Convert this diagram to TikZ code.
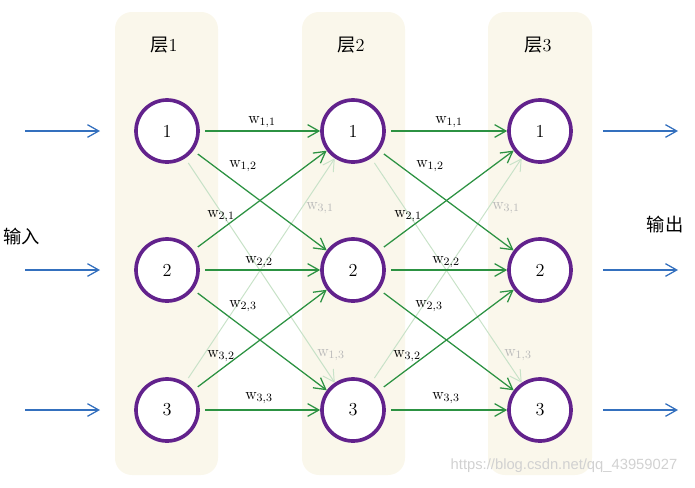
\documentclass[tikz,border=0pt]{standalone}
\usepackage{fontspec}
\usepackage{xcolor}
\usepackage{tikz}
\usetikzlibrary{arrows.meta}
\newfontfamily\cjk{Noto Sans CJK SC}
\newfontfamily\wmfont{Liberation Sans}
\definecolor{panel}{RGB}{250,247,235}
\definecolor{ring}{RGB}{98,34,140}
\definecolor{edge}{RGB}{44,146,66}
\definecolor{faint}{RGB}{200,226,200}
\definecolor{faintlabel}{RGB}{185,185,185}
\definecolor{inblue}{RGB}{52,112,190}

\begin{document}
\begin{tikzpicture}[x=0.025cm, y=-0.025cm,
  neuron/.style={circle, draw=ring, fill=white, line width=2.6pt, minimum size=1.55cm, font=\fontsize{13}{15}\selectfont},
  wire/.style={edge, line width=0.9pt, shorten <=4pt, -{Straight Barb[length=8pt, width=9pt]}},
  faintwire/.style={faint, line width=0.7pt, shorten <=4pt, -{Straight Barb[length=8pt, width=9pt]}},
  weight/.style={font=\fontsize{11.5}{13}\selectfont, inner sep=1pt},
  faintweight/.style={weight, text=faintlabel},
  ioarrow/.style={inblue, line width=0.9pt, -{Straight Barb[length=8pt, width=9pt]}},
  title/.style={font=\fontsize{13}{15}\selectfont}]
\useasboundingbox (0,0) rectangle (695,487);

% Layer panels
\fill[panel, rounded corners=12pt] (115,12) rectangle (218,475);
\fill[panel, rounded corners=12pt] (302,12) rectangle (405,475);
\fill[panel, rounded corners=12pt] (488,12) rectangle (592,475);

% Titles
\node[title] (t1) at (164,45) {{\cjk 层}1};
\node[title] (t2) at (351,45) {{\cjk 层}2};
\node[title] (t3) at (538,45) {{\cjk 层}3};
\node[title] (tin) at (22,237) {\cjk 输入};
\node[title] (tout) at (665,225) {\cjk 输出};

% Neurons
\node[neuron] (a1) at (167,131) {1};
\node[neuron] (a2) at (167,270) {2};
\node[neuron] (a3) at (167,410) {3};
\node[neuron] (b1) at (353,131) {1};
\node[neuron] (b2) at (353,270) {2};
\node[neuron] (b3) at (353,410) {3};
\node[neuron] (c1) at (540,131) {1};
\node[neuron] (c2) at (540,270) {2};
\node[neuron] (c3) at (540,410) {3};

% Inputs and outputs
\coordinate (in1) at (25,131);  \coordinate (in1e) at (100,131);
\coordinate (in2) at (25,270);  \coordinate (in2e) at (100,270);
\coordinate (in3) at (25,410);  \coordinate (in3e) at (100,410);
\coordinate (out1) at (603,131); \coordinate (out1e) at (678,131);
\coordinate (out2) at (603,270); \coordinate (out2e) at (678,270);
\coordinate (out3) at (603,410); \coordinate (out3e) at (678,410);
\draw[ioarrow] (in1) -- (in1e);
\draw[ioarrow] (in2) -- (in2e);
\draw[ioarrow] (in3) -- (in3e);
\draw[ioarrow] (out1) -- (out1e);
\draw[ioarrow] (out2) -- (out2e);
\draw[ioarrow] (out3) -- (out3e);

% Faint links
\draw[faintwire] (a1) -- (b3);
\draw[faintwire] (a3) -- (b1);
\draw[faintwire] (b1) -- (c3);
\draw[faintwire] (b3) -- (c1);

% Links layer 1 -> layer 2
\draw[wire] (a1) -- (b1);
\draw[wire] (a1) -- (b2);
\draw[wire] (a2) -- (b1);
\draw[wire] (a2) -- (b2);
\draw[wire] (a2) -- (b3);
\draw[wire] (a3) -- (b2);
\draw[wire] (a3) -- (b3);

% Links layer 2 -> layer 3
\draw[wire] (b1) -- (c1);
\draw[wire] (b1) -- (c2);
\draw[wire] (b2) -- (c1);
\draw[wire] (b2) -- (c2);
\draw[wire] (b2) -- (c3);
\draw[wire] (b3) -- (c2);
\draw[wire] (b3) -- (c3);

% Weights layer 1 -> layer 2
\node[weight] (wa11) at (262,122) {w$_{1,1}$};
\node[weight] (wa12) at (243,166) {w$_{1,2}$};
\node[weight] (wa21) at (221,216) {w$_{2,1}$};
\node[faintweight] (wa31) at (320,208) {w$_{3,1}$};
\node[weight] (wa22) at (259,262) {w$_{2,2}$};
\node[weight] (wa23) at (243,306) {w$_{2,3}$};
\node[weight] (wa32) at (221,356) {w$_{3,2}$};
\node[faintweight] (wa13) at (331,355) {w$_{1,3}$};
\node[weight] (wa33) at (259,398) {w$_{3,3}$};

% Weights layer 2 -> layer 3
\node[weight] (wb11) at (449,122) {w$_{1,1}$};
\node[weight] (wb12) at (430,166) {w$_{1,2}$};
\node[weight] (wb21) at (408,216) {w$_{2,1}$};
\node[faintweight] (wb31) at (506,208) {w$_{3,1}$};
\node[weight] (wb22) at (446,262) {w$_{2,2}$};
\node[weight] (wb23) at (429,306) {w$_{2,3}$};
\node[weight] (wb32) at (407,356) {w$_{3,2}$};
\node[faintweight] (wb13) at (518,355) {w$_{1,3}$};
\node[weight] (wb33) at (446,398) {w$_{3,3}$};

% Watermark
\node[text=black!18, font=\wmfont\fontsize{10.5}{12}\selectfont] (mark) at (564,466) {https://blog.csdn.net/qq\_43959027};
\end{tikzpicture}
\end{document}
